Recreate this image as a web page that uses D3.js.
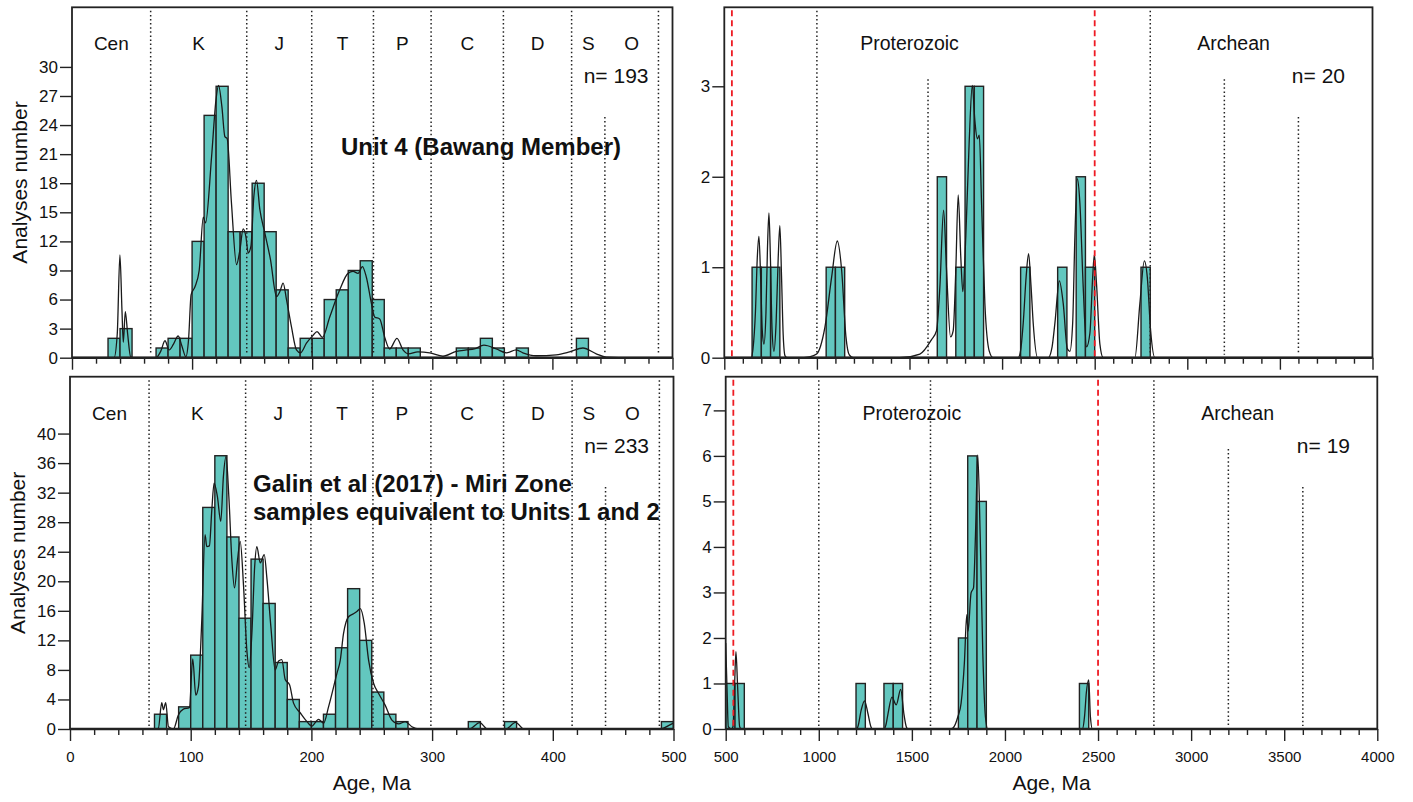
<!DOCTYPE html>
<html><head><meta charset="utf-8">
<script src="https://cdn.jsdelivr.net/npm/d3@7"></script>
<style>
body{margin:0;background:#fff;}
svg{display:block;font-family:"Liberation Sans",Arial,Helvetica,sans-serif;}
</style></head><body>
<svg id="chart" width="1413" height="802"></svg>
<script>
// ---------------- DATA ----------------
// Unit 4 (Bawang Member), 0-500 Ma histogram (10 Ma bins)
const unit4BinStart = [30,40,70,80,90,100,110,120,130,140,150,160,170,180,190,200,210,220,230,240,250,260,270,280,320,330,340,350,370,420];
const unit4Count    = [2,3,1,2,2,12,25,28,13,13,18,13,7,1,2,2,6,7,9,10,6,1,1,1,1,1,2,1,1,2];
// Galin et al (2017), 0-500 Ma histogram (10 Ma bins)
const galinBinStart = [70,90,100,110,120,130,140,150,160,170,180,190,200,210,220,230,240,250,260,270,330,360,490];
const galinCount    = [2,3,10,30,37,26,15,23,17,9,4,1,1,2,11,19,12,5,2,1,1,1,1];
// Unit 4, 500-4000 Ma histogram (50 Ma bins)
const unit4OldBinStart = [650,700,750,1050,1100,1650,1750,1800,1850,2100,2300,2400,2450,2750];
const unit4OldCount    = [1,1,1,1,1,2,1,3,3,1,1,2,1,1];
// Galin, 500-4000 Ma histogram (50 Ma bins)
const galinOldBinStart = [500,550,1200,1350,1400,1750,1800,1850,2400];
const galinOldCount    = [1,1,1,1,1,2,6,5,1];

// probability density curves [age, value]
const unit4Kde = [[0,0],[35,0],[37.7,2.5],[39.9,10.6],[41.6,4.9],[42.7,1.6],[44.4,4.75],[46.3,2.5],[48.8,0.1],[52,0],[70,0],[74,0.7],[77.4,1.75],[80.9,0.8],[84.5,1.4],[88.4,2.24],[91.5,1.2],[94.8,0.1],[97,1.8],[99.2,6.5],[102.3,7.3],[105.9,9.0],[109.3,14.5],[111.2,13.9],[116.2,20.7],[119.8,26.5],[122,28.1],[124.8,25.9],[127.3,22.8],[129.2,22.6],[132.8,15.9],[137,9.6],[139.8,11.1],[142.5,13.3],[144.8,12.5],[146.7,10.8],[149,11.5],[151.4,16.6],[153.6,18.3],[156.4,15.3],[160.5,12.9],[165.3,10.1],[170.3,6.3],[173,6.8],[175.8,7.7],[178.6,6.0],[182.7,3.2],[186.9,0.8],[190.2,0.5],[195.2,1.5],[200.7,2.3],[204,2.7],[208.5,2.1],[214.6,4.2],[222.9,7.0],[229.8,8.7],[234,8.9],[238.2,8.7],[241.8,9.4],[245.1,8.3],[249.3,5.6],[252,4.2],[256.2,4.0],[260.4,2.1],[264.5,0.9],[270.6,2.0],[275.6,0.8],[280,0.4],[288,0.6],[297.8,0.5],[308.9,0.15],[320,0.65],[328.3,0.8],[335,0.9],[343,1.3],[353.3,0.9],[361.6,0.5],[369.9,0.8],[375.4,0.5],[386.5,0.2],[403.2,0.3],[414.3,0.6],[425.4,1.0],[436.5,0.4],[444.8,0.05],[455,0],[500,0]];
const galinKde = [[0,0],[70,0],[73.2,0.1],[76,3.57],[77.4,2.6],[79.3,3.57],[81.6,0.3],[85.7,0],[89.8,1.9],[93.9,2.7],[98.9,2.9],[101.7,9.5],[104.2,4.6],[106.4,5.7],[109.2,14.8],[111.9,26.3],[113.3,24.7],[115.5,24.8],[117.5,29.7],[119.4,33.3],[122.1,31.5],[124.9,28.1],[127.1,34.2],[129.3,36.9],[131.6,31.5],[134.1,22.9],[136.3,19.1],[138.8,22.9],[141,25.4],[143.8,19.3],[146.5,10.7],[148.5,8.3],[150.7,13.0],[153,22.0],[154.8,24.7],[157.6,22.5],[160.9,23.6],[163.2,20.3],[166.4,13.9],[170,8.0],[172.8,9.2],[175.5,9.4],[178.3,6.7],[181.9,6.0],[185.2,3.5],[190.7,2.2],[196.3,1.0],[200.4,0.4],[205.9,1.3],[210.1,0.8],[214.2,3.0],[221.1,7.5],[223.9,9.3],[226.6,12.9],[230.8,15.2],[234.9,15.6],[237.7,15.9],[240.5,16.3],[243.8,14.3],[247.4,9.3],[251.5,6.2],[255.7,4.8],[261.2,3.2],[266.7,1.2],[272.3,0.7],[277.8,1.0],[283.3,0.3],[288.8,0],[331,0],[339.4,0.86],[346,0],[361,0],[369.2,0.9],[376,0],[489,0],[499.5,0.77],[500,0.8]];
const unit4OldKde = [[500,0],[645,0],[655,0.1],[668,0.5],[678,1.1],[687,1.34],[696,0.9],[705,0.3],[714,0.15],[725,0.5],[733,1.2],[741,1.6],[749,1.1],[758,0.3],[768,0.07],[780,0.4],[791,1.1],[800,1.46],[809,0.9],[818,0.25],[828,0.02],[840,0],[900,0],[960,0.01],[998.6,0.04],[1020,0.13],[1043.6,0.34],[1079.5,0.89],[1110.1,1.29],[1133.5,0.97],[1156.9,0.23],[1175,0.03],[1196,0],[1448,0],[1556,0.04],[1619,0.2],[1646,0.30],[1664,0.78],[1684,1.63],[1700,0.97],[1721.6,0.23],[1736,0.3],[1750,0.97],[1763,1.8],[1777,1.11],[1788,0.73],[1804,1.34],[1822,2.37],[1839,3.01],[1853,2.62],[1866,2.42],[1877,2.46],[1889,1.71],[1907,0.6],[1931,0.07],[1952,0],[2087,0],[2100,0.08],[2114,0.38],[2130,0.9],[2143,1.15],[2156,0.8],[2168,0.38],[2192,0],[2249,0],[2270,0.12],[2285,0.38],[2309,0.85],[2330,0.6],[2352,0.1],[2366,0.07],[2381,0.38],[2393,1.34],[2406,1.98],[2420,1.71],[2438,0.78],[2456,0.12],[2474,0.27],[2489,0.89],[2498,1.14],[2510,0.81],[2528,0.15],[2546,0],[2717,0],[2744,0.6],[2768,1.07],[2784,0.89],[2802,0.3],[2825,0],[4000,0]];
const galinOldKde = [[500,1.89],[507,0.9],[514,0.05],[530,0],[539,0.05],[548,1.0],[555,1.7],[564,0.93],[575,0.05],[585,0],[1200,0],[1210,0.05],[1228,0.42],[1246,0.62],[1264,0.34],[1280,0.05],[1290,0],[1350,0],[1360,0.08],[1372,0.34],[1393,0.7],[1416,0.53],[1440,0.87],[1458,0.31],[1470,0.05],[1480,0],[1700,0],[1720,0.02],[1747,0.27],[1764.5,0.57],[1782,1.45],[1795,2.51],[1802,2.15],[1818,2.99],[1831,3.1],[1841.5,4.24],[1854,6.02],[1867,4.24],[1881,1.67],[1895,0.27],[1908,0],[2416,0],[2428,0.3],[2437,0.79],[2450,1.08],[2459,0.27],[2470,0],[4000,0]];

// time scale
const periodNames = ["Cen","K","J","T","P","C","D","S","O"];
const periodBoundaries = [65.5,145.5,199.6,251,299,359.2,416,443.7,488.3];
const eonNames = ["Proterozoic","Archean"];
const eonLabelAges = [1500,3250];
const eonBoundaries = [1000,1600,2800,3200,3600];
const redBoundaries = [541,2500];

const leftYTicks1 = d3.range(0,31,3);
const leftYTicks2 = d3.range(0,41,4);
const rightYTicks1 = [0,1,2,3];
const rightYTicks2 = [0,1,2,3,4,5,6,7];
const sampleN = ["n= 193","n= 233","n= 20","n= 19"];

// ---------------- LAYOUT ----------------
const FILL = "#63c7bf", INK = "#222";
const svg = d3.select("#chart");
const panels = [
  {x0:72, x1:672.5, y0:7.3, y1:357.7, xd:[0,500], ymax:36.15, yt:leftYTicks1, bins:unit4BinStart, counts:unit4Count, bw:10, kde:unit4Kde, n:sampleN[0], nx:648.5, young:true, xlab:false,
   lineFrac:[0.99,0.99,0.99,0.99,0.99,0.99,0.99,0.687,0.99]},
  {x0:70, x1:673.5, y0:376.7, y1:729, xd:[0,500], ymax:47.7, yt:leftYTicks2, bins:galinBinStart, counts:galinCount, bw:10, kde:galinKde, n:sampleN[1], nx:649, young:true, xlab:true,
   lineFrac:[0.99,0.99,0.99,0.99,0.99,0.99,0.99,0.687,0.99]},
  {x0:724.3, x1:1372.5, y0:7.3, y1:357.7, xd:[500,4000], ymax:3.873, yt:rightYTicks1, bins:unit4OldBinStart, counts:unit4OldCount, bw:50, kde:unit4OldKde, n:sampleN[2], nx:1345, young:false, xlab:false,
   lineFrac:[0.99,0.795,0.99,0.795,0.687]},
  {x0:725.7, x1:1377.3, y0:376.7, y1:729, xd:[500,4000], ymax:7.74, yt:rightYTicks2, bins:galinOldBinStart, counts:galinOldCount, bw:50, kde:galinOldKde, n:sampleN[3], nx:1350, young:false, xlab:true,
   lineFrac:[0.99,0.99,0.99,0.795,0.687]}
];

panels.forEach((p,i)=>{
  const x = d3.scaleLinear().domain(p.xd).range([p.x0,p.x1]);
  const y = d3.scaleLinear().domain([0,p.ymax]).range([p.y1,p.y0]);
  const g = svg.append("g");
  const cid = "clip"+i;
  svg.append("clipPath").attr("id",cid).append("rect")
    .attr("x",p.x0).attr("y",p.y0).attr("width",p.x1-p.x0).attr("height",p.y1-p.y0);
  const plot = g.append("g").attr("clip-path",`url(#${cid})`);

  // bars
  plot.selectAll("rect.bar").data(p.bins.map((b,k)=>({b, c:p.counts[k]}))).join("rect")
    .attr("class","bar")
    .attr("x",d=>x(d.b)).attr("width",d=>x(d.b+p.bw)-x(d.b))
    .attr("y",d=>y(d.c)).attr("height",d=>y(0)-y(d.c))
    .attr("fill",FILL).attr("stroke",INK).attr("stroke-width",1.4);

  // density curve
  const line = d3.line().x(d=>x(d[0])).y(d=>y(d[1])).curve(d3.curveMonotoneX);
  plot.append("path").datum(p.kde).attr("d",line)
    .attr("fill","none").attr("stroke","#1a1a1a").attr("stroke-width",1.3);

  // time-scale boundary lines
  const H = p.y1 - p.y0;
  const bounds = p.young ? periodBoundaries : eonBoundaries;
  bounds.forEach((b,k)=>{
    g.append("line").attr("x1",x(b)).attr("x2",x(b))
      .attr("y1",p.y1 - H*p.lineFrac[k]).attr("y2",p.y1-3)
      .attr("stroke","#222").attr("stroke-width",1.5).attr("stroke-dasharray","1.5,2.6");
  });
  if(!p.young){
    redBoundaries.forEach(b=>{
      g.append("line").attr("x1",x(b)).attr("x2",x(b))
        .attr("y1",p.y0+3).attr("y2",p.y1-1)
        .attr("stroke","#ee1c24").attr("stroke-width",1.8).attr("stroke-dasharray","6,4");
    });
  }

  // labels of time scale
  if(p.young){
    const edges = [0].concat(periodBoundaries);
    periodNames.forEach((nm,k)=>{
      g.append("text").attr("x",x((edges[k]+edges[k+1])/2)).attr("y",p.y0+43)
        .attr("text-anchor","middle").attr("font-size",19).attr("fill","#111").text(nm);
    });
  } else {
    eonNames.forEach((nm,k)=>{
      g.append("text").attr("x",x(eonLabelAges[k])).attr("y",p.y0+43)
        .attr("text-anchor","middle").attr("font-size",19.5).attr("fill","#111").text(nm);
    });
  }
  g.append("text").attr("x",p.nx).attr("y",p.y0+76).attr("text-anchor","end")
    .attr("font-size",21).attr("fill","#111").text(p.n);

  // frame
  g.append("rect").attr("x",p.x0).attr("y",p.y0).attr("width",p.x1-p.x0).attr("height",p.y1-p.y0)
    .attr("fill","none").attr("stroke",INK).attr("stroke-width",1.8);

  // axes
  const major = p.young ? d3.range(0,501,100) : d3.range(500,4001,500);
  const minor = p.young ? d3.range(0,501,20).filter(v=>v%100) : d3.range(500,4001,100).filter(v=>v%500);
  const xMinor = g.append("g").attr("transform",`translate(0,${p.y1})`)
    .call(d3.axisBottom(x).tickValues(minor).tickSize(6).tickSizeOuter(0).tickFormat(()=>""));
  const xMajor = g.append("g").attr("transform",`translate(0,${p.y1})`)
    .call(d3.axisBottom(x).tickValues(major).tickSize(12).tickSizeOuter(0).tickPadding(10)
      .tickFormat(p.xlab ? d3.format("d") : ()=>""));
  [xMinor,xMajor].forEach(a=>{
    a.select(".domain").remove();
    a.selectAll(".tick line").attr("stroke",INK).attr("stroke-width",1.4);
    a.selectAll("text").attr("font-size",15).attr("fill","#111").attr("font-family","Liberation Sans, Arial, sans-serif");
  });
  g.append("line").attr("x1",p.x0).attr("x2",p.x1).attr("y1",p.y1).attr("y2",p.y1)
    .attr("stroke",INK).attr("stroke-width",2.6);

  const yAx = g.append("g").attr("transform",`translate(${p.x0},0)`)
    .call(d3.axisLeft(y).tickValues(p.yt).tickSize(12).tickSizeOuter(0).tickPadding(2).tickFormat(d3.format("d")));
  yAx.select(".domain").remove();
  yAx.selectAll(".tick line").attr("stroke",INK).attr("stroke-width",1.4);
  yAx.selectAll("text").attr("font-size",17).attr("fill","#111").attr("font-family","Liberation Sans, Arial, sans-serif");

  if(p.young){
    g.append("text").attr("transform",`translate(${p.x0-45.5},${(p.y0+p.y1)/2}) rotate(-90)`)
      .attr("text-anchor","middle").attr("font-size",21).attr("fill","#111").text("Analyses number");
  }
  if(p.xlab){
    g.append("text").attr("x",(p.x0+p.x1)/2).attr("y",790)
      .attr("text-anchor","middle").attr("font-size",21).attr("fill","#111").text("Age, Ma");
  }
});

// sample titles
svg.append("text").attr("x",341).attr("y",155).attr("font-size",24).attr("font-weight","bold")
  .attr("fill","#111").text("Unit 4 (Bawang Member)");
svg.append("text").attr("x",253).attr("y",491.5).attr("font-size",24).attr("font-weight","bold")
  .attr("fill","#111").text("Galin et al (2017) - Miri Zone");
svg.append("text").attr("x",253).attr("y",520).attr("font-size",24).attr("font-weight","bold")
  .attr("fill","#111").text("samples equivalent to Units 1 and 2");
</script>
</body></html>
